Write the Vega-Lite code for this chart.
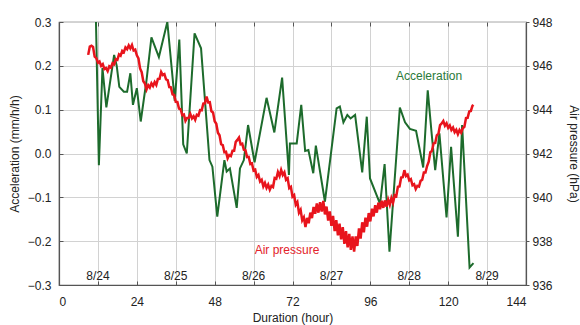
{
  "$schema": "https://vega.github.io/schema/vega-lite/v6.json",
  "width": 467,
  "height": 263,
  "autosize": {"type": "none"},
  "padding": {"left": 59, "top": 22, "right": 54, "bottom": 40},
  "background": "white",
  "config": {
    "font": "Liberation Sans",
    "view": {"stroke": "#555", "strokeWidth": 1.2},
    "axis": {
      "labelFont": "Liberation Sans", "titleFont": "Liberation Sans",
      "labelFontSize": 12, "titleFontSize": 12, "titleFontWeight": "normal",
      "labelColor": "#222", "titleColor": "#222",
      "domainColor": "#555", "tickColor": "#555", "domainWidth": 1.2,
      "gridColor": "#d2d2d2", "gridWidth": 1
    }
  },
  "datasets": {
    "acc": [
      {"h": 11.4, "a": 0.30}, {"h": 12.3, "a": -0.027}, {"h": 13.4, "a": 0.195}, {"h": 14.6, "a": 0.105},
      {"h": 17.0, "a": 0.225}, {"h": 17.8, "a": 0.2}, {"h": 18.6, "a": 0.152}, {"h": 20.0, "a": 0.141},
      {"h": 21.0, "a": 0.141}, {"h": 22.0, "a": 0.183}, {"h": 22.8, "a": 0.111}, {"h": 24.0, "a": 0.149},
      {"h": 25.2, "a": 0.073}, {"h": 27.0, "a": 0.168}, {"h": 28.5, "a": 0.265}, {"h": 30.8, "a": 0.22},
      {"h": 33.4, "a": 0.30}, {"h": 35.7, "a": 0.12}, {"h": 37.1, "a": 0.26}, {"h": 38.3, "a": 0.021},
      {"h": 39.4, "a": 0.0}, {"h": 41.8, "a": 0.274}, {"h": 43.8, "a": 0.24}, {"h": 46.4, "a": -0.015},
      {"h": 47.3, "a": -0.03}, {"h": 48.8, "a": -0.144}, {"h": 51.0, "a": -0.015}, {"h": 51.7, "a": -0.041},
      {"h": 52.7, "a": -0.034}, {"h": 54.8, "a": -0.124}, {"h": 55.8, "a": -0.034}, {"h": 57.0, "a": -0.015},
      {"h": 58.3, "a": 0.065}, {"h": 60.3, "a": -0.02}, {"h": 64.0, "a": 0.127}, {"h": 66.4, "a": 0.048},
      {"h": 68.8, "a": 0.173}, {"h": 70.9, "a": -0.049}, {"h": 71.2, "a": 0.023}, {"h": 73.3, "a": 0.023},
      {"h": 74.7, "a": 0.111}, {"h": 75.9, "a": 0.006}, {"h": 76.9, "a": 0.008}, {"h": 78.4, "a": -0.045},
      {"h": 79.2, "a": 0.018}, {"h": 82.0, "a": -0.11}, {"h": 85.6, "a": 0.103}, {"h": 86.6, "a": 0.107},
      {"h": 87.7, "a": 0.071}, {"h": 88.9, "a": 0.088}, {"h": 89.9, "a": 0.08}, {"h": 91.3, "a": 0.088},
      {"h": 93.5, "a": -0.043}, {"h": 94.9, "a": 0.084}, {"h": 95.9, "a": -0.057}, {"h": 99.0, "a": -0.115},
      {"h": 100.4, "a": -0.024}, {"h": 101.9, "a": -0.224}, {"h": 105.1, "a": 0.105}, {"h": 106.7, "a": 0.071},
      {"h": 108.2, "a": 0.056}, {"h": 110.1, "a": 0.052}, {"h": 112.3, "a": -0.032}, {"h": 113.7, "a": 0.144},
      {"h": 114.9, "a": 0.046}, {"h": 116.0, "a": -0.038}, {"h": 117.3, "a": 0.046}, {"h": 119.5, "a": -0.146},
      {"h": 120.9, "a": 0.015}, {"h": 123.0, "a": -0.19}, {"h": 124.3, "a": 0.065}, {"h": 126.6, "a": -0.26},
      {"h": 127.8, "a": -0.25}
    ],
    "pres": [
      {"h": 9.0, "p": 946.50}, {"h": 9.5, "p": 946.88}, {"h": 10.0, "p": 946.92}, {"h": 10.5, "p": 946.86},
      {"h": 11.0, "p": 946.42}, {"h": 11.5, "p": 946.35}, {"h": 12.0, "p": 946.14}, {"h": 12.5, "p": 946.20},
      {"h": 13.0, "p": 946.00}, {"h": 13.5, "p": 946.08}, {"h": 14.0, "p": 945.85}, {"h": 14.5, "p": 945.90},
      {"h": 15.0, "p": 945.76}, {"h": 15.5, "p": 945.98}, {"h": 16.0, "p": 945.92}, {"h": 16.5, "p": 946.12},
      {"h": 17.0, "p": 946.07}, {"h": 17.5, "p": 946.30}, {"h": 18.0, "p": 946.27}, {"h": 18.5, "p": 946.52},
      {"h": 19.0, "p": 946.46}, {"h": 19.5, "p": 946.68}, {"h": 20.0, "p": 946.62}, {"h": 20.5, "p": 946.84},
      {"h": 21.0, "p": 946.76}, {"h": 21.5, "p": 946.93}, {"h": 22.0, "p": 946.79}, {"h": 22.5, "p": 946.95},
      {"h": 23.0, "p": 946.70}, {"h": 23.5, "p": 946.74}, {"h": 24.0, "p": 946.48}, {"h": 24.5, "p": 946.34},
      {"h": 25.0, "p": 945.88}, {"h": 25.5, "p": 945.71}, {"h": 26.0, "p": 945.30}, {"h": 26.5, "p": 945.19},
      {"h": 27.0, "p": 944.92}, {"h": 27.5, "p": 945.12}, {"h": 28.0, "p": 945.01}, {"h": 28.5, "p": 945.20},
      {"h": 29.0, "p": 945.08}, {"h": 29.5, "p": 945.26}, {"h": 30.0, "p": 945.13}, {"h": 30.5, "p": 945.40},
      {"h": 31.0, "p": 945.41}, {"h": 31.5, "p": 945.72}, {"h": 32.0, "p": 945.58}, {"h": 32.5, "p": 945.62},
      {"h": 33.0, "p": 945.38}, {"h": 33.5, "p": 945.35}, {"h": 34.0, "p": 945.03}, {"h": 34.5, "p": 945.02},
      {"h": 35.0, "p": 944.70}, {"h": 35.5, "p": 944.67}, {"h": 36.0, "p": 944.36}, {"h": 36.5, "p": 944.35},
      {"h": 37.0, "p": 944.05}, {"h": 37.5, "p": 944.02}, {"h": 38.0, "p": 943.75}, {"h": 38.5, "p": 943.78},
      {"h": 39.0, "p": 943.49}, {"h": 39.5, "p": 943.62}, {"h": 40.0, "p": 943.63}, {"h": 40.5, "p": 943.80},
      {"h": 41.0, "p": 943.60}, {"h": 41.5, "p": 943.70}, {"h": 42.0, "p": 943.54}, {"h": 42.5, "p": 943.77},
      {"h": 43.0, "p": 943.73}, {"h": 43.5, "p": 943.98}, {"h": 44.0, "p": 943.97}, {"h": 44.5, "p": 944.28},
      {"h": 45.0, "p": 944.29}, {"h": 45.5, "p": 944.60}, {"h": 46.0, "p": 944.33}, {"h": 46.5, "p": 944.34},
      {"h": 47.0, "p": 943.93}, {"h": 47.5, "p": 943.87}, {"h": 48.0, "p": 943.47}, {"h": 48.5, "p": 943.36},
      {"h": 49.0, "p": 942.95}, {"h": 49.5, "p": 942.83}, {"h": 50.0, "p": 942.42}, {"h": 50.5, "p": 942.38},
      {"h": 51.0, "p": 942.06}, {"h": 51.5, "p": 942.08}, {"h": 52.0, "p": 941.78}, {"h": 52.5, "p": 941.93},
      {"h": 53.0, "p": 941.88}, {"h": 53.5, "p": 942.12}, {"h": 54.0, "p": 942.12}, {"h": 54.5, "p": 942.53},
      {"h": 55.0, "p": 942.62}, {"h": 55.5, "p": 942.73}, {"h": 56.0, "p": 942.42}, {"h": 56.5, "p": 942.45},
      {"h": 57.0, "p": 942.17}, {"h": 57.5, "p": 942.15}, {"h": 58.0, "p": 941.84}, {"h": 58.5, "p": 941.85},
      {"h": 59.0, "p": 941.52}, {"h": 59.5, "p": 941.55}, {"h": 60.0, "p": 941.22}, {"h": 60.5, "p": 941.26},
      {"h": 61.0, "p": 940.93}, {"h": 61.5, "p": 941.02}, {"h": 62.0, "p": 940.72}, {"h": 62.5, "p": 940.80},
      {"h": 63.0, "p": 940.50}, {"h": 63.5, "p": 940.66}, {"h": 64.0, "p": 940.43}, {"h": 64.5, "p": 940.58},
      {"h": 65.0, "p": 940.35}, {"h": 65.5, "p": 940.52}, {"h": 66.0, "p": 940.47}, {"h": 66.5, "p": 940.88},
      {"h": 67.0, "p": 940.85}, {"h": 67.5, "p": 941.15}, {"h": 68.0, "p": 940.97}, {"h": 68.5, "p": 941.25},
      {"h": 69.0, "p": 941.02}, {"h": 69.5, "p": 941.14}, {"h": 70.0, "p": 940.80}, {"h": 70.5, "p": 940.87},
      {"h": 71.0, "p": 940.42}, {"h": 71.5, "p": 940.48}, {"h": 72.0, "p": 940.03}, {"h": 72.5, "p": 940.10},
      {"h": 73.0, "p": 939.66}, {"h": 73.5, "p": 939.78}, {"h": 74.0, "p": 939.30}, {"h": 74.5, "p": 939.43},
      {"h": 75.0, "p": 938.95}, {"h": 75.5, "p": 939.09}, {"h": 76.0, "p": 938.64}, {"h": 76.5, "p": 939.06},
      {"h": 77.0, "p": 938.82}, {"h": 77.5, "p": 939.30}, {"h": 78.0, "p": 939.05}, {"h": 78.5, "p": 939.56},
      {"h": 79.0, "p": 939.25}, {"h": 79.5, "p": 939.72}, {"h": 80.0, "p": 939.30}, {"h": 80.5, "p": 939.78},
      {"h": 81.0, "p": 939.35}, {"h": 81.5, "p": 939.84}, {"h": 82.0, "p": 939.22}, {"h": 82.5, "p": 939.58},
      {"h": 83.0, "p": 938.94}, {"h": 83.5, "p": 939.36}, {"h": 84.0, "p": 938.70}, {"h": 84.5, "p": 939.15},
      {"h": 85.0, "p": 938.46}, {"h": 85.5, "p": 938.96}, {"h": 86.0, "p": 938.27}, {"h": 86.5, "p": 938.80},
      {"h": 87.0, "p": 938.08}, {"h": 87.5, "p": 938.64}, {"h": 88.0, "p": 937.88}, {"h": 88.5, "p": 938.46},
      {"h": 89.0, "p": 937.72}, {"h": 89.5, "p": 938.33}, {"h": 90.0, "p": 937.60}, {"h": 90.5, "p": 938.22},
      {"h": 91.0, "p": 937.52}, {"h": 91.5, "p": 938.22}, {"h": 92.0, "p": 937.78}, {"h": 92.5, "p": 938.58},
      {"h": 93.0, "p": 938.12}, {"h": 93.5, "p": 938.86}, {"h": 94.0, "p": 938.40}, {"h": 94.5, "p": 939.07},
      {"h": 95.0, "p": 938.66}, {"h": 95.5, "p": 939.28}, {"h": 96.0, "p": 938.90}, {"h": 96.5, "p": 939.48},
      {"h": 97.0, "p": 939.13}, {"h": 97.5, "p": 939.64}, {"h": 98.0, "p": 939.30}, {"h": 98.5, "p": 939.76},
      {"h": 99.0, "p": 939.46}, {"h": 99.5, "p": 939.84}, {"h": 100.0, "p": 939.52}, {"h": 100.5, "p": 939.86},
      {"h": 101.0, "p": 939.57}, {"h": 101.5, "p": 939.90}, {"h": 102.0, "p": 939.66}, {"h": 102.5, "p": 939.97},
      {"h": 103.0, "p": 939.75}, {"h": 103.5, "p": 940.10}, {"h": 104.0, "p": 940.06}, {"h": 104.5, "p": 940.48},
      {"h": 105.0, "p": 940.50}, {"h": 105.5, "p": 940.90}, {"h": 106.0, "p": 940.92}, {"h": 106.5, "p": 941.24},
      {"h": 107.0, "p": 940.97}, {"h": 107.5, "p": 941.03}, {"h": 108.0, "p": 940.77}, {"h": 108.5, "p": 940.83},
      {"h": 109.0, "p": 940.55}, {"h": 109.5, "p": 940.60}, {"h": 110.0, "p": 940.38}, {"h": 110.5, "p": 940.52},
      {"h": 111.0, "p": 940.49}, {"h": 111.5, "p": 940.75}, {"h": 112.0, "p": 940.80}, {"h": 112.5, "p": 941.13},
      {"h": 113.0, "p": 941.13}, {"h": 113.5, "p": 941.43}, {"h": 114.0, "p": 941.63}, {"h": 114.5, "p": 942.06},
      {"h": 115.0, "p": 942.12}, {"h": 115.5, "p": 942.46}, {"h": 116.0, "p": 942.48}, {"h": 116.5, "p": 942.83},
      {"h": 117.0, "p": 942.90}, {"h": 117.5, "p": 943.30}, {"h": 118.0, "p": 943.37}, {"h": 118.5, "p": 943.48},
      {"h": 119.0, "p": 943.27}, {"h": 119.5, "p": 943.38}, {"h": 120.0, "p": 943.17}, {"h": 120.5, "p": 943.28},
      {"h": 121.0, "p": 943.07}, {"h": 121.5, "p": 943.18}, {"h": 122.0, "p": 942.97}, {"h": 122.5, "p": 943.08},
      {"h": 123.0, "p": 942.88}, {"h": 123.5, "p": 943.07}, {"h": 124.0, "p": 942.95}, {"h": 124.5, "p": 943.15},
      {"h": 125.0, "p": 943.22}, {"h": 125.5, "p": 943.62}, {"h": 126.0, "p": 943.63}, {"h": 126.5, "p": 943.92},
      {"h": 127.0, "p": 943.94}, {"h": 127.5, "p": 944.18}, {"h": 127.8, "p": 944.22}
    ],
    "dates": [
      {"h": 12, "a": -0.279, "t": "8/24"}, {"h": 36, "a": -0.279, "t": "8/25"}, {"h": 60, "a": -0.279, "t": "8/26"},
      {"h": 84, "a": -0.279, "t": "8/27"}, {"h": 108, "a": -0.279, "t": "8/28"}, {"h": 132, "a": -0.279, "t": "8/29"}
    ],
    "labels": [
      {"h": 114.1, "a": 0.177, "t": "Acceleration", "c": "acc"},
      {"h": 70.3, "a": -0.22, "t": "Air pressure", "c": "pres"}
    ]
  },
  "encoding": {
    "x": {"field": "h", "type": "quantitative",
      "scale": {"domain": [0, 144], "nice": false},
      "axis": {"values": [0, 12, 24, 36, 48, 60, 72, 84, 96, 108, 120, 132, 144],
        "labelExpr": "datum.value % 24 == 0 ? datum.label : ''",
        "title": "Duration (hour)", "grid": true, "tickSize": -4, "labelPadding": 15, "titlePadding": 5}}
  },
  "layer": [
    {
      "encoding": {
        "y": {"field": "a", "type": "quantitative",
          "scale": {"domain": [-0.3, 0.3], "nice": false},
          "axis": {"values": [-0.3, -0.2, -0.1, 0, 0.1, 0.2, 0.3], "format": ".1f",
            "title": "Acceleration (mm/h/h)", "grid": true, "tickSize": -4, "labelPadding": 12, "titlePadding": 6}}
      },
      "layer": [
        {
          "data": {"name": "acc"},
          "mark": {"type": "line", "color": "#1d6b2c", "strokeWidth": 2, "clip": true}
        },
        {
          "data": {"name": "dates"},
          "mark": {"type": "text", "fontSize": 12, "color": "#222", "font": "Liberation Sans"},
          "encoding": {"text": {"field": "t"}}
        },
        {
          "data": {"name": "labels"},
          "mark": {"type": "text", "fontSize": 12, "font": "Liberation Sans"},
          "encoding": {
            "text": {"field": "t"},
            "color": {"field": "c", "type": "nominal", "legend": null,
              "scale": {"domain": ["acc", "pres"], "range": ["#2a7a3a", "#e3222a"]}}
          }
        }
      ]
    },
    {
      "data": {"name": "pres"},
      "mark": {"type": "line", "color": "#e8141c", "strokeWidth": 2.5},
      "encoding": {
        "x": {"field": "h", "type": "quantitative",
          "axis": {"orient": "top", "values": [0, 12, 24, 36, 48, 60, 72, 84, 96, 108, 120, 132, 144],
            "labels": false, "title": null, "grid": false, "tickSize": -4, "domain": false}},
        "y": {"field": "p", "type": "quantitative",
          "scale": {"domain": [936, 948], "nice": false},
          "axis": {"values": [936, 938, 940, 942, 944, 946, 948], "title": "Air pressure (hPa)",
            "orient": "right", "grid": false, "tickSize": 3, "labelPadding": 3, "titlePadding": 14}}
      }
    }
  ],
  "resolve": {"scale": {"y": "independent"}, "axis": {"x": "independent"}}
}
